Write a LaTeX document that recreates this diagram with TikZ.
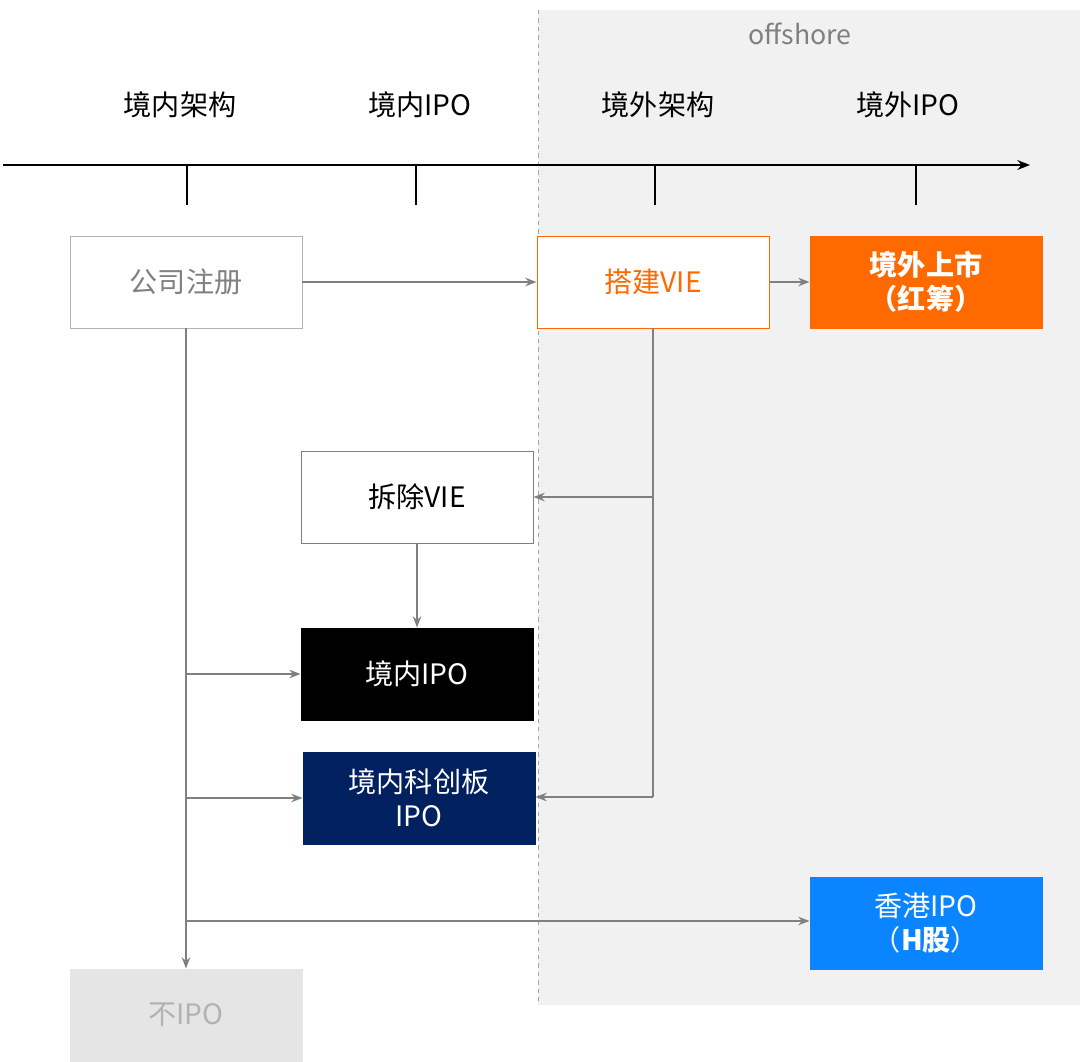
\documentclass[tikz,border=0pt]{standalone}
\usepackage{fontspec}
\setmainfont{Noto Sans CJK SC}
\usetikzlibrary{arrows.meta}
\definecolor{bgc}{HTML}{F1F1F1}
\definecolor{ln}{HTML}{808080}
\definecolor{org}{HTML}{FF6A00}
\definecolor{navy}{HTML}{002060}
\definecolor{hk}{HTML}{0A84FF}
\begin{document}
\begin{tikzpicture}[x=0.025cm,y=-0.025cm,
  box/.style={draw=#1,line width=0.6pt,minimum width=5.8cm,minimum height=2.3cm,font=\fontsize{20}{24}\selectfont,align=center,inner sep=0pt},
  conn/.style={draw=ln,line width=1.4pt,-{Stealth[length=8pt,width=6pt]}},
  hd/.style={font=\fontsize{20}{24}\selectfont}]
\useasboundingbox (0,0) rectangle (1080,1061);
\fill[bgc] (538,10) rectangle (1080,1005);
\draw[ln!70,dashed,line width=0.6pt] (538,10) -- (538,1005);
\node[text=ln,font=\fontsize{19}{22}\selectfont] (off) at (800,34) {offshore};
\node[hd] (h1) at (180,105) {境内架构};
\node[hd] (h2) at (420,105) {境内IPO};
\node[hd] (h3) at (658,105) {境外架构};
\node[hd] (h4) at (908,105) {境外IPO};
\coordinate (a0) at (3,165); \coordinate (a1) at (1030,165);
\draw[line width=1.4pt,-{Stealth[length=9pt,width=7pt]}] (a0) -- (a1);
\foreach \x in {187,416,655,916}{\draw[line width=1pt] (\x,165) -- (\x,205);}
\node[box=ln!60,fill=white,text=ln] (reg) at (186,282) {公司注册};
\node[box=org,fill=white,text=org] (vie) at (653,282) {搭建VIE};
\node[box=org,fill=org,text=white,font=\bfseries\fontsize{20}{24}\selectfont] (red) at (926,282) {境外上市\\（红筹）};
\node[box=ln,fill=white,text=black] (rm) at (417,497) {拆除VIE};
\node[box=black,fill=black,text=white] (ipo) at (417,674) {境内IPO};
\node[box=navy,fill=navy,text=white] (star) at (419,798) {境内科创板\\IPO};
\node[box=hk,fill=hk,text=white] (hkn) at (926,923) {香港IPO\\（\textbf{H股}）};
\node[box=black!10,fill=black!10,text=black!30] (no) at (186,1015) {不IPO};
\draw[conn] (reg) -- (vie);
\draw[conn] (vie) -- (red);
\coordinate (v1) at (653,497); \coordinate (v2) at (653,797);
\draw[draw=ln,line width=1.4pt] (vie.south) -- (v2);
\draw[conn] (v1) -- (rm.east);
\draw[conn] (v2) -- (star.east|-v2);
\draw[conn] (rm) -- (ipo);
\draw[conn] (reg.south) -- (no.north);
\coordinate (b1) at (186,674); \coordinate (b2) at (186,798); \coordinate (b3) at (186,921);
\draw[conn] (b1) -- (ipo.west);
\draw[conn] (b2) -- (star.west);
\draw[conn] (b3) -- (hkn.west|-b3);
\end{tikzpicture}
\end{document}
